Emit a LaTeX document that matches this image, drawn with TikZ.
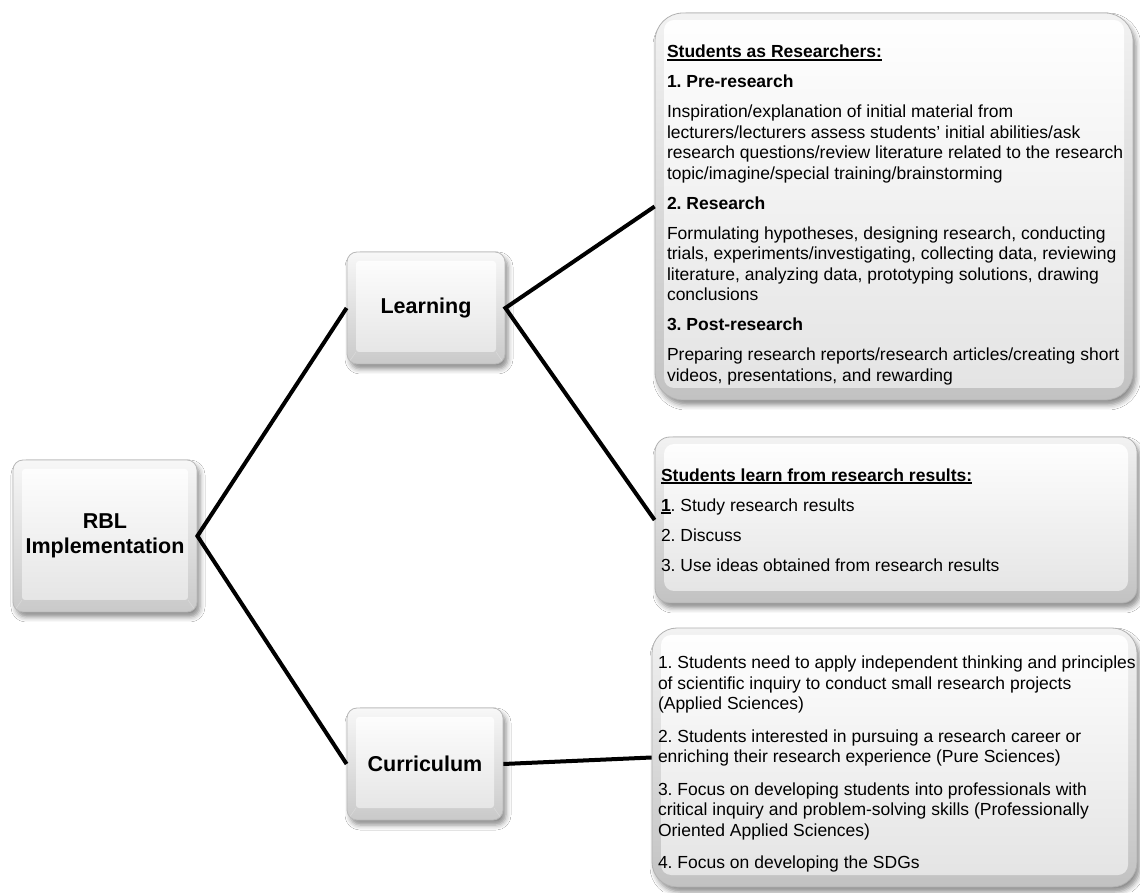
\documentclass[tikz,border=0pt]{standalone}
\usepackage{fontspec}
\setmainfont{Liberation Sans}
\usetikzlibrary{shadows.blur}
\newcommand\myul[1]{\leavevmode\setbox0\hbox{#1}\rlap{\rule[-2.6pt]{\wd0}{1.4pt}}\box0}
\tikzset{
  keycap/.style={rounded corners=10pt, draw=gray!55, line width=0.8pt,
    top color=gray!6, bottom color=gray!42,
    blur shadow={shadow xshift=3pt,shadow yshift=-5pt,shadow blur radius=5pt,shadow opacity=45},
    font=\fontsize{21.5}{25}\selectfont\bfseries, align=center, inner sep=0pt,
    path picture={
      \shade[top color=white, bottom color=gray!22, rounded corners=3pt]
        ([xshift=9pt,yshift=-9pt]path picture bounding box.north west) rectangle
        ([xshift=-9pt,yshift=12pt]path picture bounding box.south east);
      \draw[gray!30, line width=0.6pt]
        ([xshift=2pt,yshift=2pt]path picture bounding box.south west) --
        ([xshift=9pt,yshift=12pt]path picture bounding box.south west)
        ([xshift=-2pt,yshift=2pt]path picture bounding box.south east) --
        ([xshift=-9pt,yshift=12pt]path picture bounding box.south east);
    }},
  infobox/.style={rounded corners=#1, draw=gray!60, line width=0.8pt,
    top color=gray!10, bottom color=gray!48,
    blur shadow={shadow xshift=3pt,shadow yshift=-5pt,shadow blur radius=5pt,shadow opacity=45},
    font=\fontsize{17.5}{20.5}\selectfont\frenchspacing, align=flush left, inner sep=0pt,
    path picture={
      \shade[top color=white, bottom color=gray!22, rounded corners=10pt]
        ([xshift=9pt,yshift=-7pt]path picture bounding box.north west) rectangle
        ([xshift=-9pt,yshift=12pt]path picture bounding box.south east);
    }},
  link/.style={line width=4pt, black, line join=miter}
}
\begin{document}
\begin{tikzpicture}[x=1pt,y=1pt]
\useasboundingbox (0,0) rectangle (1140,892);
\fill[white] (0,0) rectangle (1140,892);

\node[keycap, minimum width=184pt, minimum height=152pt] (rbl) at (105,356) {RBL\\Implementation};
\node[keycap, minimum width=158pt, minimum height=112pt] (learn) at (426,584) {Learning};
\node[keycap, minimum width=156pt, minimum height=112pt] (curr) at (425,128) {Curriculum};

\node[infobox=28pt, minimum width=478pt, minimum height=387pt, text width=470pt] (res) at (894,685.5) {%
\leftskip=8pt
\rule{0pt}{30pt}\myul{\textbf{Students as Researchers:}}\\[9.5pt]
\textbf{1. Pre-research}\\[9.5pt]
\mbox{Inspiration/explanation of initial material from}\\
\mbox{lecturers/lecturers assess students' initial abilities/ask}\\
\mbox{research questions/review literature related to the research}\\
\mbox{topic/imagine/special training/brainstorming}\\[9.5pt]
\textbf{2. Research}\\[9.5pt]
\mbox{Formulating hypotheses, designing research, conducting}\\
\mbox{trials, experiments/investigating, collecting data, reviewing}\\
\mbox{literature, analyzing data, prototyping solutions, drawing}\\
conclusions\\[9.5pt]
\textbf{3. Post-research}\\[9.5pt]
\mbox{Preparing research reports/research articles/creating short}\\
\mbox{videos, presentations, and rewarding}\par};

\node[infobox=15pt, minimum width=482pt, minimum height=166pt, text width=470pt] (results) at (896,372) {%
\myul{\textbf{Students learn from research results:}}\\[9.5pt]
\myul{\textbf{1}}. Study research results\\[9.5pt]
2. Discuss\\[9.5pt]
3. Use ideas obtained from research results\par};

\node[infobox=25pt, minimum width=485pt, minimum height=259pt, text width=478pt] (cur) at (894.5,134.5) {%
\leftskip=2.5pt
\rule{0pt}{26pt}\mbox{1. Students need to apply independent thinking and principles}\\
\mbox{of scientific inquiry to conduct small research projects}\\
(Applied Sciences)\\[12pt]
\mbox{2. Students interested in pursuing a research career or}\\
\mbox{enriching their research experience (Pure Sciences)}\\[12pt]
\mbox{3. Focus on developing students into professionals with}\\
\mbox{critical inquiry and problem-solving skills (Professionally}\\
\mbox{Oriented Applied Sciences)}\\[12pt]
4. Focus on developing the SDGs\par};

\draw[link] (learn.west) -- (rbl.east) -- (curr.west);
\draw[link] (res.west) -- (learn.east) -- (results.west);
\draw[link] (curr.east) -- (cur.west);
\end{tikzpicture}
\end{document}
